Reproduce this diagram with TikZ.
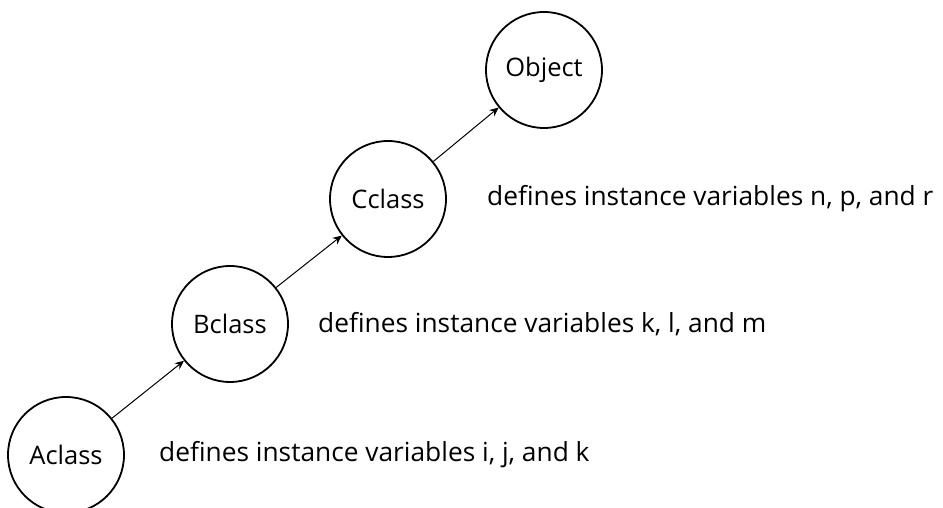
\documentclass[tikz,border=0pt]{standalone}
\usepackage{fontspec}
\setmainfont{Open Sans}
\usetikzlibrary{arrows.meta}
\begin{document}
\begin{tikzpicture}[x=1pt,y=1pt,
  cls/.style={draw, circle, line width=1.8pt, minimum size=116pt, inner sep=0pt, font=\fontsize{25.5}{30}\selectfont},
  lbl/.style={anchor=west, inner sep=0pt, font=\fontsize{26.3}{30}\selectfont},
  arr/.style={-{Stealth[length=9pt,width=8pt,inset=3pt]}, line width=1pt}]
\useasboundingbox (0,0) rectangle (943,508);
\node[cls] (O) at (544,438) {Object};
\node[cls] (C) at (388,309) {Cclass};
\node[cls] (B) at (230,184) {Bclass};
\node[cls] (A) at (66,53) {Aclass};
\node[lbl] (tC) at (487,309) {defines instance variables n, p, and r};
\node[lbl] (tB) at (318,184) {defines instance variables k, l, and m};
\node[lbl] (tA) at (159,53) {defines instance variables i, j, and k};
\draw[arr] (A) -- (B);
\draw[arr] (B) -- (C);
\draw[arr] (C) -- (O);
\end{tikzpicture}
\end{document}
